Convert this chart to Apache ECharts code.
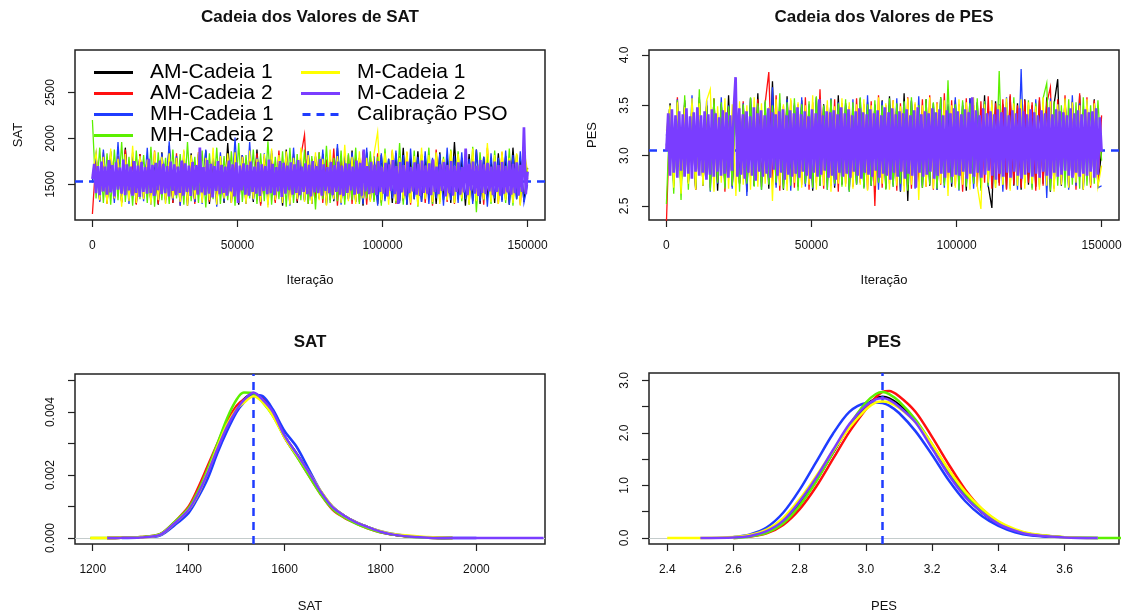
<!DOCTYPE html>
<html>
<head>
<meta charset="utf-8">
<script src="https://cdn.jsdelivr.net/npm/echarts@6/dist/echarts.min.js"></script>
<style>
html,body{margin:0;padding:0;background:#fff;}
#chart{width:1129px;height:614px;}
</style>
</head>
<body>
<div id="chart"></div>
<script>
// ---------- data ----------
const ITER_MAX = 150000;
const PSO_SAT = 1535;
const PSO_PES = 3.05;
const chainNames = ['AM-Cadeia 1','AM-Cadeia 2','MH-Cadeia 1','MH-Cadeia 2','M-Cadeia 1','M-Cadeia 2'];
const chainColors = ['#000000','#ff1010','#1f3cff','#5cf000','#ffff00','#7a3dff'];
const psoName = 'Calibração PSO';
const psoColor = '#1f3cff';

// SAT chains (trace, thinned)
const satAM1 = [1540,1810,1330,1790,1300,1860,1350,1770,1310,1900,
1340,1780,1290,1830,1360,1800,1320,1760,1280,1850,
1330,1920,1300,1790,1350,1810,1270,1840,1310,1780,
1360,1870,1290,1800,1330,1760,1300,1950,1340,1790,
1280,1820,1350,1770,1310,1880,1290,1800,1360,1840,
1320,1790,1270,1880,1340,1810,1300,1770,1330,1860,
1290,1800,1350,1830,1280,1780,1320,1900,1300,1810,
1340,1870,1310,1790,1270,1850,1330,1800,1290,1820,
1350,1780,1300,1840,1320,1900,1280,1790,1340,1860,
1310,1810,1360,1770,1290,1850,1330,1800,1300,1960,
1340,1790,1270,1830,1320,1880,1290,1800,1350,1770,
1300,1840,1330,1810,1280,1900,1340,1790,1310,1680];
const satAM2 = [1180,1790,1320,1850,1290,1770,1340,1810,1300,1880,
1330,1760,1280,1830,1350,1790,1310,1870,1290,1800,
1340,1780,1300,1840,1270,1810,1330,1760,1290,1850,
1350,1790,1310,1820,1280,1800,1340,1770,1300,1860,
1320,1820,1290,1780,1350,1840,1270,1800,1330,1760,
1300,1870,1340,1790,1280,1830,1320,1810,2040,1290,
1780,1350,1850,1300,1770,1330,1890,1270,1800,1340,
1820,1290,1790,1310,1860,1280,1800,1330,1840,1300,
1760,1340,1870,1290,1810,1320,1850,1280,1790,1350,
1830,1300,1800,1270,1880,1340,1770,1310,1860,1290,
1810,1350,1790,1300,1840,1320,1780,1280,1900,1330,
1800,1290,1850,1340,1770,1310,1820,1280,1860,1560];
const satMH1 = [1520,1830,1310,1880,1340,1790,1300,1960,1330,1820,
1290,1850,1350,1800,1320,1900,1280,1780,1340,1840,
1300,1970,1330,1810,1270,1860,1350,1790,1310,1830,
1290,1880,1340,1800,1260,1850,1320,1770,1300,2010,
1340,1820,1290,1960,1330,1790,1310,1840,1280,1870,
1350,1800,1300,1830,1270,1900,1340,1780,1320,1860,
1290,1810,1350,1880,1300,1790,1330,1940,1280,1820,
1340,1850,1310,1790,1290,1900,1330,1810,1270,1840,
1320,1780,1350,1870,1300,1820,1280,1890,1340,1800,
1310,1860,1290,1790,1350,1830,1270,1900,1330,1810,
1300,1850,1340,1780,1290,1880,1320,1800,1260,1840,
1350,1790,1310,1870,1280,1820,1340,1860,1300,1500];
const satMH2 = [2200,1350,1900,1300,1840,1280,1880,1330,1960,1310,
1800,1270,1870,1340,1820,1300,1910,1260,1850,1330,
1790,1290,1880,1350,1830,1280,1960,1320,1800,1300,
1870,1250,1840,1340,1900,1290,1810,1330,1860,1270,
1950,1310,1820,1350,1880,1290,1840,1320,1970,1280,
1800,1340,1860,1260,1900,1300,1830,1330,1880,1290,
1810,1230,1850,1340,1920,1300,1790,1320,1870,1280,
1840,1330,1900,1290,1820,1350,1860,1310,1800,1270,
1890,1340,1830,1300,1950,1280,1810,1330,1870,1260,
1820,1350,1900,1290,1840,1310,1800,1340,1880,1300,
1860,1320,1790,1280,1910,1200,1850,1330,1820,1290,
1870,1340,1800,1300,1890,1270,1830,1350,1810,1600];
const satM1 = [1600,1850,1330,1800,1290,1890,1350,1780,1260,1830,
1320,1920,1300,1810,1340,1770,1280,1860,1330,1800,
1290,1840,1350,1790,1310,1880,1270,1820,1340,1850,
1300,1790,1330,1900,1280,1810,1350,1840,1300,1850,
1320,1800,1290,1870,1340,1780,1310,1830,1250,1890,
1330,1820,1300,1860,1280,1790,1340,1900,1310,1820,
1290,1850,1330,1780,1270,1880,1340,1810,1300,1930,
1320,1800,1290,1860,1350,1790,1310,1830,2070,1330,
1840,1280,1880,1320,1790,1350,1860,1300,1810,1270,
1900,1340,1820,1310,1850,1290,1780,1330,1870,1300,
1830,1350,1800,1280,1890,1320,1760,1340,1950,1310,
1820,1290,1860,1330,1790,1300,1840,1270,1880,1640];
const satM2 = [1560,1725,1405,1700,1385,1750,1425,1695,1390,1765,
1415,1710,1370,1740,1445,1685,1400,1770,1385,1720,
1435,1695,1380,1755,1410,1705,1365,1745,1420,1690,
1400,1780,1410,1715,1375,1735,1440,1760,1395,1725,
1405,1700,1370,1750,1430,1720,1385,1695,1410,1760,
1380,1730,1420,1705,1375,1745,1440,1710,1390,1900,
1415,1690,1385,1765,1400,1725,1360,1700,1430,1755,
1395,1715,1410,1695,1380,1760,1425,1720,1370,1740,
1300,1705,1435,1730,1390,1715,1380,1750,1420,1695,
1400,1745,1375,1720,1430,1700,1395,1770,1405,1725,
1385,1690,1425,1755,1365,1735,1400,1705,1440,1740,
1390,1720,1410,1765,1385,1695,1420,1730,1395,1715,
1370,1755,1415,1700,1405,1775,1380,1720,1430,1690,
1405,1745,1385,1710,1420,1750,1390,1705,1375,1730,
1410,1725,1435,1695,1390,1760,1400,1735,1380,1880,
1425,1700,1395,1745,1410,1715,1385,1755,1420,1690,
1400,1735,1370,1720,1430,1765,1395,1700,1290,1745,
1415,1710,1380,1750,1405,1690,1425,1740,1390,1725,
1375,1760,1410,1705,1400,1730,1385,1770,1420,1695,
1395,1720,1430,1745,1370,1715,1405,1755,1380,1700,
1420,1740,1390,1690,1415,1890,1385,1725,1435,1750,
1400,1705,1375,1765,1410,1720,1395,1735,1425,1695,
1385,1750,1420,1710,1380,1745,1400,1700,1415,1760,
1390,1725,1405,1740,1380,1715,1420,2120,1395,1640];

// PES chains (trace, thinned)
const pesAM1 = [3.10,3.52,2.72,3.48,2.68,3.55,2.74,3.50,2.66,3.58,
2.70,3.49,2.73,3.56,2.65,3.51,2.71,3.60,2.69,3.53,
2.72,3.50,2.64,3.57,2.70,3.62,2.73,3.48,2.67,3.74,
2.71,3.52,2.66,3.59,2.74,3.50,2.69,3.55,2.72,3.49,
2.65,3.58,2.70,3.51,2.73,3.56,2.68,3.60,2.71,3.52,
2.66,3.49,2.72,3.57,2.69,3.53,2.70,3.50,2.73,3.55,
2.67,3.59,2.71,3.51,2.64,3.62,2.55,3.54,2.72,3.50,
2.68,3.56,2.70,3.52,2.66,3.58,2.73,3.49,2.69,3.55,
2.71,3.50,2.65,3.57,2.72,3.53,2.68,3.60,2.70,2.48,
3.54,2.73,3.51,2.67,3.59,2.70,3.52,2.66,3.56,2.71,
3.50,2.69,3.55,2.72,3.58,2.64,3.51,3.76,2.70,3.57,
2.68,3.53,2.73,3.60,2.66,3.52,2.71,3.56,2.69,3.05];
const pesAM2 = [2.33,3.45,2.75,3.58,2.70,3.52,2.73,3.49,2.66,3.55,
2.71,3.50,2.68,3.57,2.74,3.51,2.64,3.48,2.70,3.56,
2.72,3.54,2.67,3.50,2.73,3.56,2.69,3.52,3.83,2.70,
3.60,2.65,3.49,2.72,3.55,2.68,3.51,2.71,3.58,2.66,
3.53,2.73,3.66,2.67,3.50,2.70,3.56,2.64,3.52,2.72,
3.49,2.69,3.57,2.73,3.51,2.66,3.54,2.50,3.60,2.68,
3.50,2.72,3.55,2.65,3.52,2.70,3.58,2.67,3.51,2.73,
3.56,2.69,3.60,2.66,3.53,2.71,3.62,2.68,3.55,2.70,
3.51,2.64,3.57,2.72,3.50,2.69,3.54,2.73,3.59,2.67,
3.52,2.70,3.56,2.66,3.61,2.71,3.50,2.68,3.55,2.73,
3.53,2.65,3.58,2.70,3.52,3.68,2.67,3.56,2.72,3.60,
2.69,3.54,2.66,3.62,2.71,3.58,2.68,3.55,2.70,3.40];
const pesMH1 = [3.20,3.50,2.70,3.56,2.66,3.52,2.73,3.60,2.68,3.49,
2.71,3.55,2.64,3.51,2.72,3.58,2.69,3.50,2.67,3.54,
2.73,3.52,2.60,3.57,2.70,3.49,2.66,3.53,2.72,3.68,
2.68,3.50,2.71,3.56,2.65,3.52,2.73,3.58,2.69,3.51,
2.67,3.55,2.72,3.49,2.66,3.57,2.70,3.53,2.73,3.50,
2.64,3.56,2.71,3.52,2.68,3.60,2.70,3.51,2.66,3.54,
2.72,3.50,2.69,3.57,2.65,3.53,2.71,3.55,2.67,3.59,
2.70,3.52,2.73,3.49,2.66,3.56,2.68,3.51,2.72,3.58,
2.65,3.53,2.70,3.57,2.67,3.50,2.71,3.54,2.69,3.55,
2.72,3.51,2.64,3.58,2.70,3.52,2.66,3.86,2.73,3.50,
2.68,3.56,2.71,3.53,2.58,3.57,2.69,3.51,2.72,3.55,
2.66,3.60,2.70,3.52,2.67,3.54,2.73,3.49,2.68,2.70];
const pesMH2 = [2.52,3.48,2.62,3.55,2.56,3.60,2.66,3.52,2.68,3.66,
2.71,3.50,2.65,3.57,2.73,3.53,2.67,3.49,2.70,3.56,
2.64,3.51,2.72,3.58,2.69,3.52,2.66,3.55,2.71,3.50,
2.73,3.62,2.67,3.53,2.70,3.57,2.65,3.51,2.72,3.54,
2.68,3.59,2.70,3.50,2.66,3.56,2.72,3.52,2.69,3.56,
2.64,3.53,2.71,3.58,2.67,3.51,2.70,3.55,2.73,3.50,
2.66,3.57,2.69,3.52,2.72,3.54,2.65,3.58,2.70,3.50,
2.68,3.56,2.71,3.53,2.67,3.58,2.70,3.75,2.73,3.51,
2.66,3.55,2.69,3.52,2.72,3.57,2.65,3.54,2.70,3.50,
2.68,3.84,2.71,3.53,2.67,3.58,2.70,3.51,2.73,3.55,
2.66,3.52,2.69,3.57,3.72,2.65,3.54,2.70,3.50,2.68,
3.56,2.71,3.53,2.67,3.58,2.70,3.50,2.72,3.55,2.95];
const pesM1 = [3.25,3.50,2.68,3.53,2.62,3.48,2.72,3.57,2.66,3.52,
2.70,3.55,3.66,2.64,3.49,2.73,3.57,2.67,3.51,2.60,
3.54,2.71,3.50,2.66,3.58,2.69,3.52,2.72,3.48,2.55,
3.56,2.70,3.51,2.65,3.57,2.73,3.53,2.68,3.50,2.71,
3.60,2.66,3.52,2.70,3.55,2.64,3.49,2.72,3.57,2.69,
3.53,2.67,3.51,2.71,3.56,2.65,3.50,2.70,3.58,2.72,
3.52,2.66,3.55,2.70,3.49,2.64,3.57,2.71,3.53,2.56,
3.50,2.69,3.58,2.67,3.52,2.72,3.55,2.60,3.50,2.68,
3.56,2.71,3.53,2.66,3.58,2.70,2.47,3.51,2.73,3.55,
2.68,3.50,2.71,3.57,2.65,3.52,2.70,3.56,2.67,3.53,
2.72,3.49,2.66,3.58,2.70,3.54,2.64,3.51,2.71,3.57,
2.68,3.53,2.73,3.50,2.66,3.56,2.70,3.52,2.69,2.90];
const pesM2 = [3.05,3.42,2.80,3.46,2.83,3.40,2.78,3.44,2.85,3.41,
2.79,3.47,2.82,3.39,2.77,3.43,2.84,3.48,2.80,3.40,
2.83,3.44,2.76,3.41,2.81,3.46,2.79,3.42,2.84,3.38,
2.80,3.45,2.82,3.43,2.78,3.40,2.85,3.46,3.78,2.79,
3.47,2.81,3.41,2.77,3.44,2.83,3.39,2.80,3.48,2.75,
3.42,2.84,3.45,2.79,3.40,2.82,3.47,2.78,3.43,2.86,
3.41,2.80,3.44,2.83,3.46,2.76,3.40,2.81,3.45,2.79,
3.42,2.82,3.48,2.78,3.41,2.84,3.44,2.80,3.39,2.77,
3.46,2.83,3.42,2.79,3.56,2.81,3.40,2.85,3.44,2.78,
3.43,2.80,3.45,2.76,3.41,2.83,3.48,2.79,3.42,2.82,
3.46,2.78,3.40,2.84,3.44,2.80,3.47,2.77,3.43,2.83,
3.41,2.81,3.46,2.79,3.42,2.85,3.45,2.78,3.40,2.82,
3.48,2.80,3.43,2.76,3.47,2.83,3.41,2.79,3.44,2.84,
3.42,2.77,3.46,2.82,3.40,2.80,3.45,2.68,3.48,2.83,
3.41,2.79,3.44,2.81,3.42,2.84,3.47,2.77,3.43,2.80,
3.46,2.82,3.40,2.78,3.45,2.83,3.42,2.79,3.47,2.81,
3.44,2.80,3.41,2.84,3.46,2.77,3.43,2.82,3.58,2.79,
3.45,2.83,3.40,2.78,3.47,2.81,3.42,2.85,3.44,2.80,
3.41,2.76,3.46,2.82,3.43,2.79,3.48,2.83,3.40,2.78,
3.45,2.84,3.42,2.80,3.47,2.77,3.44,2.81,3.41,2.83,
3.46,2.79,3.43,2.82,3.40,2.78,3.45,2.84,3.42,2.80,
3.48,2.77,3.41,2.83,3.46,2.79,3.44,2.81,3.43,2.85,
3.40,2.80,3.47,2.78,3.42,2.83,3.45,2.79,3.41,2.82,
3.46,2.80,3.43,2.84,3.44,2.78,3.47,2.81,3.38,3.04];

// SAT densities
const satGrid = [1195,1230,1260,1300,1340,1370,1400,1420,1440,1460,1480,1500,1515,1535,1555,1575,1600,1625,1650,1675,1700,1725,1750,1775,1800,1830,1860,1900,1950,2000,2050,2100,2140];
const satDensAM1 = [null,0,0.000005,0.00002,0.0001,0.00045,0.0009,0.00142,0.00207,0.00283,0.00352,0.00408,0.0044,0.0046,0.0044,0.00402,0.00324,0.00268,0.0021,0.00148,0.00098,0.0007,0.00049,0.00034,0.0002,0.0001,0.00005,0.00001,0,null,null,null,null];
const satDensAM2 = [null,0,0.000005,0.00003,0.00012,0.0005,0.001,0.0016,0.0023,0.003,0.0037,0.0042,0.0044,0.0045,0.0044,0.0040,0.0032,0.00262,0.002,0.0014,0.0009,0.00064,0.00046,0.0003,0.00018,0.0001,0.00004,0.00001,0,null,null,null,null];
const satDensMH1 = [null,null,0,0.00002,0.00008,0.0004,0.0008,0.0013,0.0019,0.0027,0.0034,0.004,0.0043,0.00455,0.0045,0.0041,0.0034,0.0029,0.0022,0.0015,0.001,0.0007,0.0005,0.00034,0.00022,0.00012,0.00006,0.00002,0,0,null,null,null];
const satDensMH2 = [0,0,0.000005,0.00003,0.00012,0.0005,0.00095,0.0015,0.0022,0.003,0.0038,0.0044,0.00462,0.0046,0.0043,0.0039,0.0032,0.0026,0.002,0.0014,0.00093,0.00065,0.00045,0.0003,0.00018,0.0001,0.00004,0.00001,0,null,null,null,null];
const satDensM1 = [0,0,0.000005,0.00002,0.0001,0.00046,0.0009,0.0014,0.0021,0.0029,0.0036,0.0041,0.0043,0.0045,0.0043,0.0039,0.0032,0.00265,0.0021,0.0015,0.001,0.0007,0.0005,0.00034,0.00022,0.00012,0.00008,0.00003,0,null,null,null,null];
const satDensM2 = [null,0,0.000005,0.00002,0.0001,0.00046,0.0009,0.00142,0.00208,0.00283,0.00353,0.00408,0.00438,0.00462,0.00438,0.00402,0.00325,0.00268,0.0021,0.00148,0.00098,0.0007,0.00049,0.00034,0.0002,0.0001,0.00005,0.00001,0,0,0,0,0];

// PES densities
const pesGrid = [2.40,2.50,2.60,2.65,2.70,2.75,2.80,2.85,2.90,2.95,3.00,3.03,3.05,3.07,3.10,3.15,3.20,3.25,3.30,3.35,3.40,3.45,3.50,3.60,3.70,3.77];
const pesDensAM1 = [null,null,0.01,0.04,0.12,0.31,0.66,1.10,1.62,2.13,2.52,2.66,2.69,2.66,2.54,2.22,1.74,1.24,0.80,0.49,0.27,0.14,0.06,0.01,null,null];
const pesDensAM2 = [null,null,0,0.03,0.09,0.25,0.55,0.98,1.50,2.02,2.45,2.68,2.78,2.80,2.70,2.40,1.92,1.40,0.92,0.55,0.30,0.15,0.07,0.01,null,null];
const pesDensMH1 = [null,null,0.02,0.07,0.20,0.48,0.92,1.45,1.98,2.40,2.57,2.58,2.57,2.52,2.38,2.03,1.58,1.10,0.70,0.42,0.23,0.11,0.05,0.01,0,null];
const pesDensMH2 = [null,null,0,0.03,0.10,0.28,0.62,1.08,1.62,2.15,2.58,2.74,2.78,2.74,2.60,2.25,1.78,1.28,0.85,0.52,0.29,0.15,0.07,0.015,0.002,0];
const pesDensM1 = [0,0,0.02,0.06,0.16,0.38,0.74,1.18,1.65,2.10,2.45,2.58,2.60,2.58,2.48,2.20,1.78,1.30,0.88,0.56,0.32,0.17,0.08,0.015,0,null];
const pesDensM2 = [null,0,0.01,0.04,0.13,0.33,0.70,1.15,1.67,2.17,2.52,2.64,2.66,2.63,2.50,2.20,1.70,1.20,0.78,0.49,0.27,0.14,0.06,0.01,0,null];

// ---------- build ----------
const satTraces = [satAM1, satAM2, satMH1, satMH2, satM1, satM2];
const pesTraces = [pesAM1, pesAM2, pesMH1, pesMH2, pesM1, pesM2];
const satDens = [satDensAM1, satDensAM2, satDensMH1, satDensMH2, satDensM1, satDensM2];
const pesDens = [pesDensAM1, pesDensAM2, pesDensMH1, pesDensMH2, pesDensM1, pesDensM2];

const FONT = '"Liberation Sans", Arial, sans-serif';
const toIter = vals => vals.map((v, i) => [i * ITER_MAX / (vals.length - 1), v]);
const onGrid = (grid, vals) => grid.map((x, i) => [x, vals[i]]);

const grids = [
  {left: 75, top: 50, width: 470, height: 170},
  {left: 649, top: 50, width: 470, height: 170},
  {left: 75, top: 374, width: 470, height: 170},
  {left: 649, top: 373, width: 470, height: 171}
].map(g => Object.assign(g, {show: true, borderColor: '#222', borderWidth: 1.5, containLabel: false, backgroundColor: 'transparent'}));

function xAx(gi, min, max, ticks, fmt, name, gap) {
  return {
    type: 'value', gridIndex: gi, min: min, max: max,
    splitLine: {show: false},
    axisLine: {show: false, onZero: false},
    axisTick: {show: true, length: 7, customValues: ticks, lineStyle: {color: '#222', width: 1.2}},
    axisLabel: {customValues: ticks, formatter: fmt, fontSize: 12, color: '#111', margin: 20, fontFamily: FONT},
    name: name, nameLocation: 'middle', nameGap: gap,
    nameTextStyle: {fontSize: 13, color: '#111', fontFamily: FONT}
  };
}
function yAx(gi, min, max, ticks, labelTicks, fmt, name) {
  return {
    type: 'value', gridIndex: gi, min: min, max: max,
    splitLine: {show: false},
    axisLine: {show: false, onZero: false},
    axisTick: {show: true, length: 7, customValues: ticks, lineStyle: {color: '#222', width: 1.2}},
    axisLabel: {customValues: labelTicks, formatter: fmt, rotate: 90, fontSize: 12, color: '#111', margin: 18, fontFamily: FONT},
    name: name, nameLocation: 'middle', nameGap: 50,
    nameTextStyle: {fontSize: 13, color: '#111', fontFamily: FONT}
  };
}

const xAxis = [
  xAx(0, -6000, 156000, [0, 50000, 100000, 150000], v => String(v), 'Iteração', 54),
  xAx(1, -6000, 156000, [0, 50000, 100000, 150000], v => String(v), 'Iteração', 54),
  xAx(2, 1163, 2143, [1200, 1400, 1600, 1800, 2000], v => String(v), 'SAT', 56),
  xAx(3, 2.345, 3.764, [2.4, 2.6, 2.8, 3.0, 3.2, 3.4, 3.6], v => v.toFixed(1), 'PES', 56)
];
const yAxis = [
  yAx(0, 1115, 2960, [1500, 2000, 2500], [1500, 2000, 2500], v => String(v), 'SAT'),
  yAx(1, 2.36, 4.05, [2.5, 3.0, 3.5, 4.0], [2.5, 3.0, 3.5, 4.0], v => v.toFixed(1), 'PES'),
  yAx(2, -0.00019, 0.00521, [0, 0.001, 0.002, 0.003, 0.004, 0.005], [0, 0.002, 0.004], v => v.toFixed(3), ''),
  yAx(3, -0.114, 3.141, [0, 0.5, 1, 1.5, 2, 2.5, 3], [0, 1, 2, 3], v => v.toFixed(1), '')
];

const traceWidth = k => (k === 5 ? 2.7 : 1.3);
const series = [];
chainNames.forEach((n, k) => {
  series.push({name: n, type: 'line', xAxisIndex: 0, yAxisIndex: 0, data: toIter(satTraces[k]),
    symbol: 'none', color: chainColors[k], lineStyle: {width: traceWidth(k), color: chainColors[k], join: 'miter'}, silent: true, z: 2 + k});
});
chainNames.forEach((n, k) => {
  series.push({name: n, type: 'line', xAxisIndex: 1, yAxisIndex: 1, data: toIter(pesTraces[k]),
    symbol: 'none', color: chainColors[k], lineStyle: {width: traceWidth(k), color: chainColors[k], join: 'miter'}, silent: true, z: 2 + k});
});
chainNames.forEach((n, k) => {
  const s = {name: n, type: 'line', xAxisIndex: 2, yAxisIndex: 2, data: onGrid(satGrid, satDens[k]),
    symbol: 'none', smooth: 0.3, color: chainColors[k], lineStyle: {width: 2.5, color: chainColors[k]}, silent: true, z: 2 + k};
  if (k === 0) s.markLine = {silent: true, symbol: ['none','none'], label: {show: false}, animation: false,
    lineStyle: {color: '#c4cccc', width: 1, type: 'solid'}, data: [{yAxis: 0}]};
  series.push(s);
});
chainNames.forEach((n, k) => {
  const s = {name: n, type: 'line', xAxisIndex: 3, yAxisIndex: 3, data: onGrid(pesGrid, pesDens[k]),
    symbol: 'none', smooth: 0.3, color: chainColors[k], lineStyle: {width: 2.5, color: chainColors[k]}, silent: true, z: 2 + k};
  if (k === 0) s.markLine = {silent: true, symbol: ['none','none'], label: {show: false}, animation: false,
    lineStyle: {color: '#c4cccc', width: 1, type: 'solid'}, data: [{yAxis: 0}]};
  series.push(s);
});
const psoLine = (xi, yi, spec) => ({
  name: psoName, type: 'line', xAxisIndex: xi, yAxisIndex: yi, data: [], symbol: 'none', z: 20,
  color: psoColor, lineStyle: {color: psoColor, width: 2.5, type: [8, 6]},
  markLine: {silent: true, symbol: ['none','none'], label: {show: false}, animation: false,
    lineStyle: {color: psoColor, width: 2.5, type: [8, 6]}, data: [spec]}
});
series.push(psoLine(0, 0, {yAxis: PSO_SAT}));
series.push(psoLine(1, 1, {yAxis: PSO_PES}));
series.push(psoLine(2, 2, {xAxis: PSO_SAT}));
series.push(psoLine(3, 3, {xAxis: PSO_PES}));

const DASH_ICON = 'path://M0,0h8v3h-8z M14,0h8v3h-8z M28,0h8v3h-8z';
const legendCommon = {
  orient: 'vertical', top: 62, itemWidth: 39, itemHeight: 3, itemGap: 0, padding: 0,
  selectedMode: false, icon: 'rect',
  textStyle: {fontSize: 21, lineHeight: 20, color: '#000', fontFamily: FONT, padding: [0, 0, 0, 12]}
};
const legends = [
  Object.assign({}, legendCommon, {left: 94, data: chainNames.slice(0, 4)}),
  Object.assign({}, legendCommon, {left: 301, data: [chainNames[4], chainNames[5], {name: psoName, icon: DASH_ICON}]})
];

const titleStyle = {fontSize: 17, fontWeight: 'bold', fill: '#111', fontFamily: FONT, textAlign: 'center', textVerticalAlign: 'middle'};
const graphic = [
  {type: 'text', x: 310, y: 17, style: Object.assign({text: 'Cadeia dos Valores de SAT'}, titleStyle)},
  {type: 'text', x: 884, y: 17, style: Object.assign({text: 'Cadeia dos Valores de PES'}, titleStyle)},
  {type: 'text', x: 310, y: 342, style: Object.assign({text: 'SAT'}, titleStyle)},
  {type: 'text', x: 884, y: 342, style: Object.assign({text: 'PES'}, titleStyle)}
];

const chart = echarts.init(document.getElementById('chart'), null, {renderer: 'canvas'});
chart.setOption({
  animation: false,
  backgroundColor: '#ffffff',
  grid: grids, xAxis: xAxis, yAxis: yAxis,
  legend: legends, series: series, graphic: graphic
});
</script>
</body>
</html>
